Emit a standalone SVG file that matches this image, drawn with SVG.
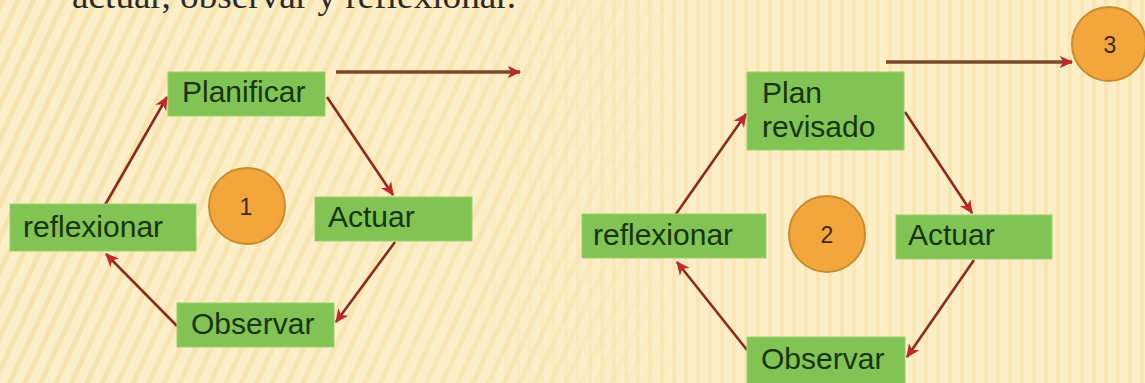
<svg xmlns="http://www.w3.org/2000/svg" width="1145" height="383" viewBox="0 0 1145 383">
<defs>
<pattern id="diag" width="14" height="14" patternUnits="userSpaceOnUse" patternTransform="rotate(25)">
<rect width="14" height="14" fill="none"/>
<rect width="5" height="14" fill="#F2D58E" opacity="0.45"/>
</pattern>
<pattern id="vert" width="12" height="12" patternUnits="userSpaceOnUse">
<rect width="4" height="12" fill="#F2D68F" opacity="0.4"/>
</pattern>
<linearGradient id="fadeL" x1="0" y1="0" x2="1" y2="0">
<stop offset="0" stop-color="#fff" stop-opacity="1"/>
<stop offset="0.45" stop-color="#fff" stop-opacity="0.7"/>
<stop offset="0.6" stop-color="#fff" stop-opacity="0"/>
</linearGradient>
<linearGradient id="fadeR" x1="0" y1="0" x2="1" y2="0">
<stop offset="0.4" stop-color="#fff" stop-opacity="0"/>
<stop offset="0.6" stop-color="#fff" stop-opacity="0.8"/>
<stop offset="1" stop-color="#fff" stop-opacity="0.9"/>
</linearGradient>
<mask id="mL"><rect width="1145" height="383" fill="url(#fadeL)"/></mask>
<mask id="mR"><rect width="1145" height="383" fill="url(#fadeR)"/></mask>
<marker id="ah" viewBox="0 0 12 12" refX="10" refY="6" markerWidth="15" markerHeight="15" markerUnits="userSpaceOnUse" orient="auto">
<path d="M0,1 L11,6 L0,11 L3,6 z" fill="#C0282A"/>
</marker>
<marker id="ahb" viewBox="0 0 12 12" refX="10" refY="6" markerWidth="15" markerHeight="15" markerUnits="userSpaceOnUse" orient="auto">
<path d="M0,1 L11,6 L0,11 L3,6 z" fill="#C0282A"/>
</marker>
</defs>
<style>
.box{fill:#82C453;stroke:#9BD06E;stroke-width:1}
.lbl{font-family:"Liberation Sans",Arial,sans-serif;font-size:30px;fill:#17330F}
.num{font-family:"Liberation Sans",Arial,sans-serif;font-size:23px;fill:#3A2A12;text-anchor:middle}
.circ{fill:#F3A63C;stroke:#C98B30;stroke-width:2}
.cyc{stroke:#8E2A1C;stroke-width:2.6;fill:none;marker-end:url(#ah)}
.hz{stroke:#7B4A2C;stroke-width:3.6;fill:none;marker-end:url(#ahb)}
.title{font-family:"Liberation Serif","Times New Roman",serif;font-size:36px;fill:#2B2B2B}
</style>
<rect width="1145" height="383" fill="#FCEEC6"/>
<rect width="1145" height="383" fill="url(#diag)" mask="url(#mL)"/>
<rect width="1145" height="383" fill="url(#vert)" mask="url(#mR)"/>
<text class="title" x="72" y="8" textLength="444" lengthAdjust="spacingAndGlyphs">actuar, observar y reflexionar.</text>

<g id="connectors">
<line class="hz" x1="336" y1="72" x2="520" y2="72"/>
<line class="cyc" x1="327" y1="97" x2="393" y2="195"/>
<line class="cyc" x1="395" y1="242" x2="336" y2="322"/>
<line class="cyc" x1="177" y1="326" x2="106" y2="254"/>
<line class="cyc" x1="105" y1="205" x2="167" y2="97"/>
<line class="hz" x1="886" y1="62" x2="1072" y2="62"/>
<line class="cyc" x1="905" y1="112" x2="972" y2="213"/>
<line class="cyc" x1="974" y1="260" x2="907" y2="357"/>
<line class="cyc" x1="747" y1="350" x2="677" y2="262"/>
<line class="cyc" x1="676" y1="214" x2="746" y2="114"/>
</g>

<g id="planificar"><rect class="box" x="168" y="72" width="157" height="44"/><text class="lbl" x="182" y="102">Planificar</text></g>
<g id="reflexionar1"><rect class="box" x="10" y="204" width="186" height="47"/><text class="lbl" x="23" y="237">reflexionar</text></g>
<g id="actuar1"><rect class="box" x="315" y="197" width="157" height="44"/><text class="lbl" x="328" y="227">Actuar</text></g>
<g id="observar1"><rect class="box" x="177" y="303" width="157" height="44"/><text class="lbl" x="191" y="334">Observar</text></g>
<g id="c1"><circle class="circ" cx="247" cy="206" r="38"/><text class="num" x="246" y="215">1</text></g>

<g id="planrevisado"><rect class="box" x="747" y="72" width="157" height="78"/><text class="lbl" x="762" y="103">Plan</text><text class="lbl" x="762" y="137">revisado</text></g>
<g id="reflexionar2"><rect class="box" x="582" y="214" width="184" height="44"/><text class="lbl" x="593" y="245">reflexionar</text></g>
<g id="actuar2"><rect class="box" x="896" y="215" width="156" height="44"/><text class="lbl" x="908" y="245">Actuar</text></g>
<g id="observar2"><rect class="box" x="747" y="337" width="158" height="52"/><text class="lbl" x="761" y="369">Observar</text></g>
<g id="c2"><circle class="circ" cx="827" cy="234" r="38"/><text class="num" x="827" y="243">2</text></g>
<g id="c3"><circle class="circ" cx="1109" cy="44" r="37"/><text class="num" x="1110" y="53">3</text></g>
</svg>
